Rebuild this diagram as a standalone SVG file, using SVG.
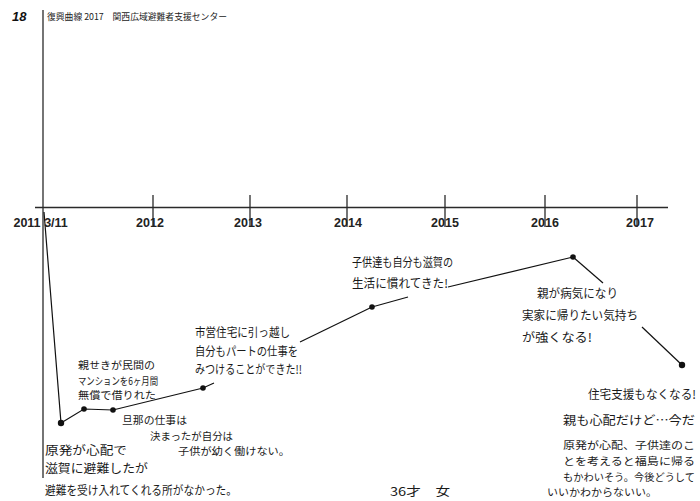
<svg xmlns="http://www.w3.org/2000/svg" width="700" height="501" viewBox="0 0 700 501">
<style>
.ax{stroke:#2a2a2a;stroke-width:1.3;fill:none}
.ln{stroke:#111;stroke-width:1.2;fill:none}
.yr{font-family:"Liberation Sans",Arial,sans-serif;font-weight:bold;font-size:12.5px;fill:#222;text-anchor:middle}
.hw{font-family:"Noto Sans CJK JP","Noto Sans",sans-serif;font-size:12px;fill:#1a1a1a}
.sm{font-size:10.5px}
.xs{font-size:10px}
.hd{font-family:"Noto Sans CJK JP","Noto Sans",sans-serif;font-size:8.8px;fill:#222}
.pt{fill:#111}
</style>
<rect width="700" height="501" fill="#fff"/>
<g id="header">
<text x="12" y="21" font-family="'Liberation Sans',Arial,sans-serif" font-weight="bold" font-style="italic" font-size="13" fill="#111">18</text>
<text class="hd" x="47" y="19.5" textLength="180" lengthAdjust="spacingAndGlyphs">復興曲線 2017　関西広域避難者支援センター</text>
</g>
<g id="axis">
<line class="ax" x1="43" y1="10" x2="43" y2="478"/>
<line class="ax" x1="35" y1="207.5" x2="668" y2="207.5"/>
<line class="ax" x1="153" y1="195" x2="153" y2="227"/>
<line class="ax" x1="250" y1="195" x2="250" y2="227"/>
<line class="ax" x1="347" y1="195" x2="347" y2="227"/>
<line class="ax" x1="445" y1="195" x2="445" y2="227"/>
<line class="ax" x1="545" y1="195" x2="545" y2="227"/>
<line class="ax" x1="637" y1="195" x2="637" y2="227"/>
<text class="yr" x="27" y="226.5">2011</text>
<text class="yr" x="56" y="226.5">3/11</text>
<text class="yr" x="150" y="226.5">2012</text>
<text class="yr" x="248" y="226.5">2013</text>
<text class="yr" x="348" y="226.5">2014</text>
<text class="yr" x="445" y="226.5">2015</text>
<text class="yr" x="545" y="226.5">2016</text>
<text class="yr" x="640" y="226.5">2017</text>
</g>
<g id="connectors">
<polyline class="ln" points="44,212 61,423 84,409 113,410 203,388 214,383"/>
<line class="ln" x1="300" y1="342" x2="372" y2="307"/>
<line class="ln" x1="372" y1="307" x2="408" y2="297"/>
<line class="ln" x1="448" y1="287" x2="573" y2="257"/>
<line class="ln" x1="573" y1="257" x2="603" y2="283"/>
<line class="ln" x1="642" y1="327" x2="682" y2="365"/>
</g>
<g id="points">
<circle class="pt" cx="61" cy="423" r="3.2"/>
<circle class="pt" cx="84" cy="409" r="2.8"/>
<circle class="pt" cx="113" cy="410" r="2.8"/>
<circle class="pt" cx="203" cy="388" r="2.8"/>
<circle class="pt" cx="372" cy="307" r="2.8"/>
<circle class="pt" cx="573" cy="257" r="2.8"/>
<circle class="pt" cx="682" cy="365" r="3.2"/>
</g>
<g id="note-2011">
<text class="hw" x="45" y="455" textLength="82" lengthAdjust="spacingAndGlyphs">原発が心配で</text>
<text class="hw" x="45" y="473" textLength="103" lengthAdjust="spacingAndGlyphs">滋賀に避難したが</text>
<text class="hw" x="45" y="495" textLength="192" lengthAdjust="spacingAndGlyphs">避難を受け入れてくれる所がなかった。</text>
</g>
<g id="note-relatives">
<text class="hw sm" x="78" y="369" textLength="77" lengthAdjust="spacingAndGlyphs">親せきが民間の</text>
<text class="hw sm" x="78" y="385" textLength="80" lengthAdjust="spacingAndGlyphs">マンションを6ヶ月間</text>
<text class="hw sm" x="78" y="399" textLength="78" lengthAdjust="spacingAndGlyphs">無償で借りれた</text>
</g>
<g id="note-husband">
<text class="hw sm" x="122" y="424" textLength="65" lengthAdjust="spacingAndGlyphs">旦那の仕事は</text>
<text class="hw sm" x="150" y="440" textLength="83" lengthAdjust="spacingAndGlyphs">決まったが自分は</text>
<text class="hw sm" x="178" y="455" textLength="112" lengthAdjust="spacingAndGlyphs">子供が幼く働けない。</text>
</g>
<g id="note-housing">
<text class="hw" x="195" y="337" textLength="95" lengthAdjust="spacingAndGlyphs">市営住宅に引っ越し</text>
<text class="hw" x="195" y="356" textLength="103" lengthAdjust="spacingAndGlyphs">自分もパートの仕事を</text>
<text class="hw" x="195" y="374" textLength="107" lengthAdjust="spacingAndGlyphs">みつけることができた!!</text>
</g>
<g id="note-2014">
<text class="hw" x="352" y="267" textLength="101" lengthAdjust="spacingAndGlyphs">子供達も自分も滋賀の</text>
<text class="hw" x="352" y="288" textLength="96" lengthAdjust="spacingAndGlyphs">生活に慣れてきた!</text>
</g>
<g id="note-2016">
<text class="hw" x="537" y="298" textLength="81" lengthAdjust="spacingAndGlyphs">親が病気になり</text>
<text class="hw" x="522" y="320" textLength="116" lengthAdjust="spacingAndGlyphs">実家に帰りたい気持ち</text>
<text class="hw" x="522" y="342" textLength="70" lengthAdjust="spacingAndGlyphs">が強くなる!</text>
</g>
<g id="note-2017">
<text class="hw" x="588" y="399" textLength="108" lengthAdjust="spacingAndGlyphs">住宅支援もなくなる!</text>
<text class="hw" x="563" y="425" textLength="132" lengthAdjust="spacingAndGlyphs">親も心配だけど…今だ</text>
<text class="hw sm" x="563" y="449" textLength="132" lengthAdjust="spacingAndGlyphs">原発が心配、子供達のこ</text>
<text class="hw sm" x="563" y="465" textLength="132" lengthAdjust="spacingAndGlyphs">とを考えると福島に帰る</text>
<text class="hw sm" x="563" y="481" textLength="132" lengthAdjust="spacingAndGlyphs">もかわいそう。今後どうして</text>
<text class="hw xs" x="547" y="496" textLength="110" lengthAdjust="spacingAndGlyphs">いいかわからないい。</text>
</g>
<g id="signature">
<text class="hw" x="390" y="496" textLength="60" lengthAdjust="spacingAndGlyphs">36才　女</text>
</g>
</svg>
